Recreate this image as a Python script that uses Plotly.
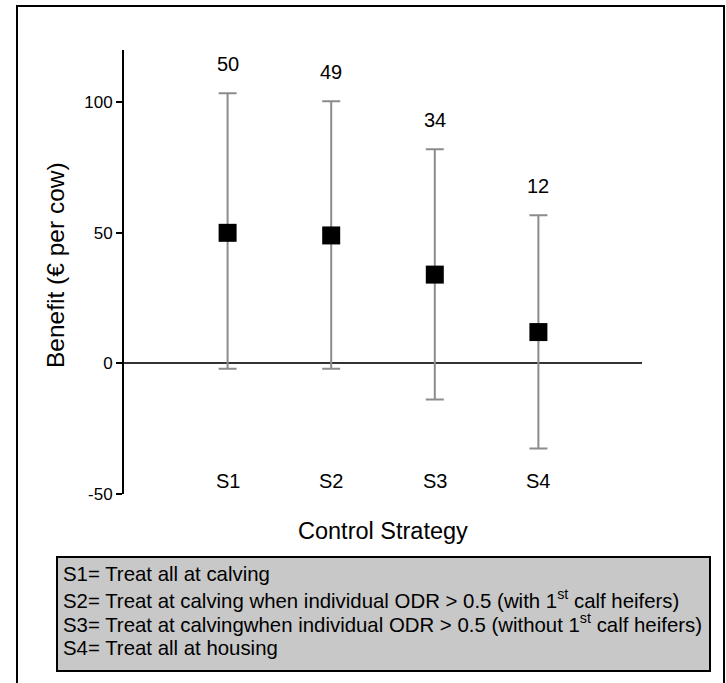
import plotly.graph_objects as go

# ---- data ----
strategies = ["S1", "S2", "S3", "S4"]
mean_benefit = [50, 49, 34, 12]
upper_limit = [103.4, 100.4, 82.0, 56.7]
lower_limit = [-2.0, -2.0, -13.8, -32.6]
value_labels = ["50", "49", "34", "12"]
y_ticks = [-50, 0, 50, 100]
legend_lines = [
    "S1= Treat all at calving",
    "S2= Treat at calving when individual ODR > 0.5 (with 1<sup>st</sup> calf heifers)",
    "S3= Treat at calvingwhen individual ODR > 0.5 (without 1<sup>st</sup> calf heifers)",
    "S4= Treat all at housing",
]

# ---- layout geometry (pixels) ----
W, H = 726, 683
L, R, T, B = 124, 642, 50, 494
PW, PH = R - L, B - T


def px(x):
    return (x - L) / PW


def py(y):
    return 1 - (y - T) / PH


FONT = "Liberation Sans, Arial, sans-serif"
Y_RANGE = [-50, 120]

err_plus = [u - m for u, m in zip(upper_limit, mean_benefit)]
err_minus = [m - l for m, l in zip(mean_benefit, lower_limit)]

fig = go.Figure()
fig.add_trace(go.Scatter(
    x=strategies, y=mean_benefit, mode="markers",
    marker=dict(symbol="square", size=18, color="black"),
    error_y=dict(type="data", symmetric=False, array=err_plus, arrayminus=err_minus,
                 color="#8c8c8c", thickness=2, width=9),
    showlegend=False, hoverinfo="skip",
))

annotations = []
for s, u, lab in zip(strategies, upper_limit, value_labels):
    annotations.append(dict(x=s, y=u, xref="x", yref="y", text=lab, showarrow=False,
                            yanchor="bottom", yshift=16, font=dict(size=20, color="black", family=FONT)))
for s in strategies:
    annotations.append(dict(x=s, y=Y_RANGE[0], xref="x", yref="y", text=s, showarrow=False,
                            yanchor="bottom", yshift=0, font=dict(size=20, color="black", family=FONT)))

annotations.append(dict(x=0.5, y=py(531), xref="paper", yref="paper", text="Control Strategy",
                        showarrow=False, xanchor="center", yanchor="middle",
                        font=dict(size=23.5, color="black", family=FONT)))
annotations.append(dict(x=px(55), y=py(265), xref="paper", yref="paper", text="Benefit (€ per cow)",
                        showarrow=False, textangle=-90, xanchor="center", yanchor="middle",
                        font=dict(size=24.5, color="black", family=FONT)))

for i, line in enumerate(legend_lines):
    annotations.append(dict(x=px(61), y=py(574 + 24.5 * i), xref="paper", yref="paper", text=line,
                            showarrow=False, xanchor="left", yanchor="middle",
                            font=dict(size=20.4, color="black", family=FONT)))

shapes = [
    # outer frame
    dict(type="rect", xref="paper", yref="paper", x0=px(17), x1=px(724), y0=py(700), y1=py(6),
         line=dict(color="black", width=2), fillcolor="rgba(0,0,0,0)", layer="below"),
    # legend box
    dict(type="rect", xref="paper", yref="paper", x0=px(57), x1=px(710), y0=py(671), y1=py(557),
         line=dict(color="black", width=2), fillcolor="#c8c8c8", layer="below"),
]

fig.update_layout(
    width=W, height=H, autosize=False,
    margin=dict(l=L, r=W - R, t=T, b=H - B, pad=0),
    paper_bgcolor="white", plot_bgcolor="white",
    font=dict(family=FONT, color="black"),
    xaxis=dict(type="category", range=[-1, 4], showline=False, showgrid=False, zeroline=False,
               showticklabels=False, ticks=""),
    yaxis=dict(range=Y_RANGE, tickvals=y_ticks, ticktext=[str(v) for v in y_ticks],
               showline=True, linecolor="black", linewidth=2, ticks="outside", ticklen=6,
               tickwidth=2, tickcolor="black", showgrid=False,
               zeroline=True, zerolinecolor="#333333", zerolinewidth=2,
               tickfont=dict(size=17, color="black", family=FONT)),
    annotations=annotations,
    shapes=shapes,
)

fig.write_html(
    "out.html",
    config={"displayModeBar": False},
    post_script="document.body.style.margin='0px';document.body.style.overflow='hidden';",
)
